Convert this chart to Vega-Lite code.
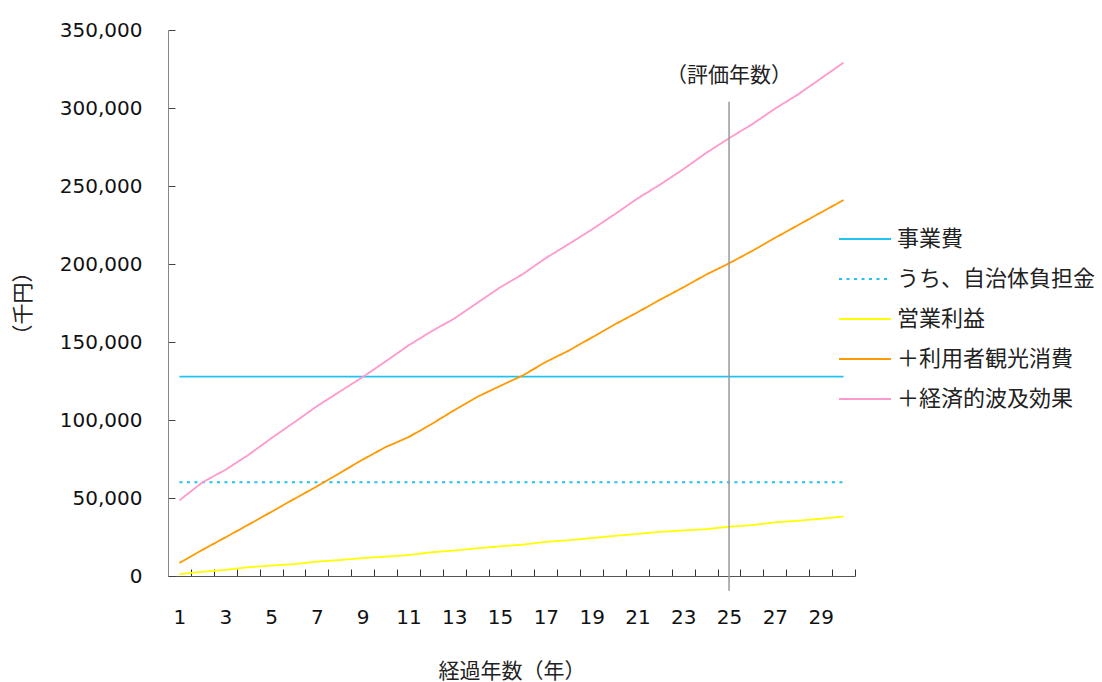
{
  "$schema": "https://vega.github.io/schema/vega-lite/v6.json",
  "autosize": "none",
  "width": 687,
  "height": 546,
  "padding": {"left": 168, "top": 30, "right": 247, "bottom": 106},
  "background": "white",
  "config": {
    "view": {"stroke": null},
    "axis": {"labelFont": "DejaVu Sans", "labelFontSize": 20, "labelColor": "#111", "titleFont": "Noto Sans CJK JP", "titleFontSize": 21, "titleFontWeight": "normal", "titleColor": "#222", "grid": false},
    "legend": {"labelFont": "Noto Sans CJK JP", "labelFontSize": 22, "labelColor": "#222", "labelLimit": 400}
  },
  "datasets": {
    "lines": [
      {"year": 1, "series": "事業費", "value": 127800},
      {"year": 30, "series": "事業費", "value": 127800},
      {"year": 1, "series": "うち、自治体負担金", "value": 60100},
      {"year": 30, "series": "うち、自治体負担金", "value": 60100},
      {"year": 1, "series": "営業利益", "value": 1200},
      {"year": 2, "series": "営業利益", "value": 2700},
      {"year": 3, "series": "営業利益", "value": 3900},
      {"year": 4, "series": "営業利益", "value": 5600},
      {"year": 5, "series": "営業利益", "value": 6700},
      {"year": 6, "series": "営業利益", "value": 7600},
      {"year": 7, "series": "営業利益", "value": 9200},
      {"year": 8, "series": "営業利益", "value": 10200},
      {"year": 9, "series": "営業利益", "value": 11500},
      {"year": 10, "series": "営業利益", "value": 12400},
      {"year": 11, "series": "営業利益", "value": 13400},
      {"year": 12, "series": "営業利益", "value": 15200},
      {"year": 13, "series": "営業利益", "value": 16300},
      {"year": 14, "series": "営業利益", "value": 17800},
      {"year": 15, "series": "営業利益", "value": 19000},
      {"year": 16, "series": "営業利益", "value": 20100},
      {"year": 17, "series": "営業利益", "value": 21900},
      {"year": 18, "series": "営業利益", "value": 22900},
      {"year": 19, "series": "営業利益", "value": 24300},
      {"year": 20, "series": "営業利益", "value": 25700},
      {"year": 21, "series": "営業利益", "value": 27000},
      {"year": 22, "series": "営業利益", "value": 28300},
      {"year": 23, "series": "営業利益", "value": 29200},
      {"year": 24, "series": "営業利益", "value": 30000},
      {"year": 25, "series": "営業利益", "value": 31600},
      {"year": 26, "series": "営業利益", "value": 32600},
      {"year": 27, "series": "営業利益", "value": 34400},
      {"year": 28, "series": "営業利益", "value": 35400},
      {"year": 29, "series": "営業利益", "value": 36700},
      {"year": 30, "series": "営業利益", "value": 38100},
      {"year": 1, "series": "＋利用者観光消費", "value": 8400},
      {"year": 2, "series": "＋利用者観光消費", "value": 16700},
      {"year": 3, "series": "＋利用者観光消費", "value": 24700},
      {"year": 4, "series": "＋利用者観光消費", "value": 32800},
      {"year": 5, "series": "＋利用者観光消費", "value": 41000},
      {"year": 6, "series": "＋利用者観光消費", "value": 49300},
      {"year": 7, "series": "＋利用者観光消費", "value": 57400},
      {"year": 8, "series": "＋利用者観光消費", "value": 66000},
      {"year": 9, "series": "＋利用者観光消費", "value": 74600},
      {"year": 10, "series": "＋利用者観光消費", "value": 82600},
      {"year": 11, "series": "＋利用者観光消費", "value": 89000},
      {"year": 12, "series": "＋利用者観光消費", "value": 97300},
      {"year": 13, "series": "＋利用者観光消費", "value": 106300},
      {"year": 14, "series": "＋利用者観光消費", "value": 114800},
      {"year": 15, "series": "＋利用者観光消費", "value": 121800},
      {"year": 16, "series": "＋利用者観光消費", "value": 128600},
      {"year": 17, "series": "＋利用者観光消費", "value": 137200},
      {"year": 18, "series": "＋利用者観光消費", "value": 144500},
      {"year": 19, "series": "＋利用者観光消費", "value": 152800},
      {"year": 20, "series": "＋利用者観光消費", "value": 161200},
      {"year": 21, "series": "＋利用者観光消費", "value": 169000},
      {"year": 22, "series": "＋利用者観光消費", "value": 177200},
      {"year": 23, "series": "＋利用者観光消費", "value": 185000},
      {"year": 24, "series": "＋利用者観光消費", "value": 193200},
      {"year": 25, "series": "＋利用者観光消費", "value": 200400},
      {"year": 26, "series": "＋利用者観光消費", "value": 208300},
      {"year": 27, "series": "＋利用者観光消費", "value": 216700},
      {"year": 28, "series": "＋利用者観光消費", "value": 224800},
      {"year": 29, "series": "＋利用者観光消費", "value": 232900},
      {"year": 30, "series": "＋利用者観光消費", "value": 241000},
      {"year": 1, "series": "＋経済的波及効果", "value": 48500},
      {"year": 2, "series": "＋経済的波及効果", "value": 60000},
      {"year": 3, "series": "＋経済的波及効果", "value": 68000},
      {"year": 4, "series": "＋経済的波及効果", "value": 77500},
      {"year": 5, "series": "＋経済的波及効果", "value": 88200},
      {"year": 6, "series": "＋経済的波及効果", "value": 98400},
      {"year": 7, "series": "＋経済的波及効果", "value": 108800},
      {"year": 8, "series": "＋経済的波及効果", "value": 118200},
      {"year": 9, "series": "＋経済的波及効果", "value": 127500},
      {"year": 10, "series": "＋経済的波及効果", "value": 137500},
      {"year": 11, "series": "＋経済的波及効果", "value": 147800},
      {"year": 12, "series": "＋経済的波及効果", "value": 156800},
      {"year": 13, "series": "＋経済的波及効果", "value": 165000},
      {"year": 14, "series": "＋経済的波及効果", "value": 175000},
      {"year": 15, "series": "＋経済的波及効果", "value": 185000},
      {"year": 16, "series": "＋経済的波及効果", "value": 193600},
      {"year": 17, "series": "＋経済的波及効果", "value": 203800},
      {"year": 18, "series": "＋経済的波及効果", "value": 212800},
      {"year": 19, "series": "＋経済的波及効果", "value": 222000},
      {"year": 20, "series": "＋経済的波及効果", "value": 231800},
      {"year": 21, "series": "＋経済的波及効果", "value": 242000},
      {"year": 22, "series": "＋経済的波及効果", "value": 251000},
      {"year": 23, "series": "＋経済的波及効果", "value": 260700},
      {"year": 24, "series": "＋経済的波及効果", "value": 271200},
      {"year": 25, "series": "＋経済的波及効果", "value": 280600},
      {"year": 26, "series": "＋経済的波及効果", "value": 289500},
      {"year": 27, "series": "＋経済的波及効果", "value": 299500},
      {"year": 28, "series": "＋経済的波及効果", "value": 308600},
      {"year": 29, "series": "＋経済的波及効果", "value": 318800},
      {"year": 30, "series": "＋経済的波及効果", "value": 329100}
    ],
    "marker": [
      {"year": 25, "top": 304000, "bottom": -9500, "label": "（評価年数）", "labelY": 320500}
    ]
  },
  "layer": [
    {
      "data": {"name": "lines"},
      "mark": {"type": "line", "strokeWidth": 1.8},
      "encoding": {
        "x": {
          "field": "year", "type": "ordinal",
          "scale": {"type": "band", "paddingInner": 0, "paddingOuter": 0},
          "axis": {
            "title": "経過年数（年）",
            "labelAngle": 0,
            "tickBand": "extent",
            "tickSize": -7,
            "labelPadding": 38,
            "labelExpr": "datum.value % 2 == 1 ? datum.label : ''",
            "labelOverlap": false,
            "domainColor": "#555",
            "tickColor": "#333",
            "titlePadding": 33
          }
        },
        "y": {
          "field": "value", "type": "quantitative",
          "scale": {"domain": [0, 350000], "nice": false, "zero": true},
          "axis": {
            "title": "（千円）",
            "values": [0, 50000, 100000, 150000, 200000, 250000, 300000, 350000],
            "format": ",.0f",
            "tickSize": -7,
            "labelPadding": 33,
            "domainColor": "#888",
            "tickColor": "#444",
            "titlePadding": 26
          }
        },
        "color": {
          "field": "series", "type": "nominal",
          "scale": {
            "domain": ["事業費", "うち、自治体負担金", "営業利益", "＋利用者観光消費", "＋経済的波及効果"],
            "range": ["#1EC3F0", "#1EC3F0", "#FFFF00", "#FF9900", "#FF99CC"]
          },
          "legend": {
            "title": null,
            "orient": "none",
            "legendX": 683,
            "legendY": 195,
            "padding": 0,
            "symbolType": "M-2,0H2",
            "symbolSize": 676,
            "symbolStrokeWidth": 2,
            "labelOffset": 18,
            "rowPadding": 15,
            "labelFontSize": 22,
            "labelLimit": 400
          }
        },
        "strokeDash": {
          "field": "series", "type": "nominal",
          "scale": {
            "domain": ["事業費", "うち、自治体負担金", "営業利益", "＋利用者観光消費", "＋経済的波及効果"],
            "range": [[1, 0], [3, 4.5], [1, 0], [1, 0], [1, 0]]
          },
          "legend": {
            "title": null,
            "orient": "none",
            "legendX": 683,
            "legendY": 195,
            "padding": 0,
            "symbolType": "M-2,0H2",
            "symbolSize": 676,
            "symbolStrokeWidth": 2,
            "labelOffset": 18,
            "rowPadding": 15,
            "labelFontSize": 22,
            "labelLimit": 400
          }
        }
      }
    },
    {
      "data": {"name": "marker"},
      "mark": {"type": "rule", "color": "#999999", "strokeWidth": 1.5},
      "encoding": {
        "x": {"field": "year", "type": "ordinal"},
        "y": {"field": "top", "type": "quantitative"},
        "y2": {"field": "bottom"}
      }
    },
    {
      "data": {"name": "marker"},
      "mark": {"type": "text", "font": "Noto Sans CJK JP", "fontSize": 21, "color": "#222", "baseline": "middle", "align": "center"},
      "encoding": {
        "x": {"field": "year", "type": "ordinal"},
        "y": {"field": "labelY", "type": "quantitative"},
        "text": {"field": "label"}
      }
    }
  ]
}
